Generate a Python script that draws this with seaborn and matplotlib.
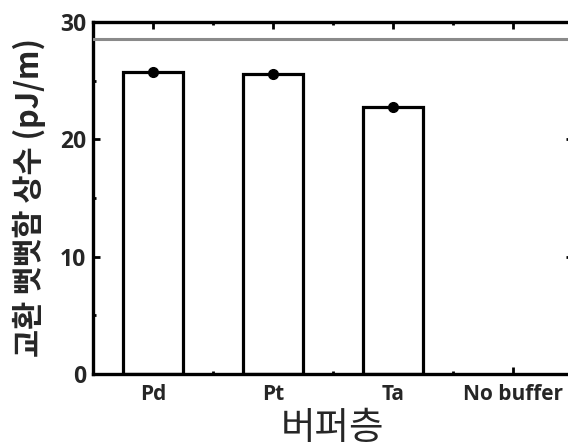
import numpy as np
import pandas as pd
import matplotlib
matplotlib.use('Agg')
import matplotlib.pyplot as plt
import seaborn as sns
from matplotlib.ticker import MultipleLocator

# --- data ---
buffers = ['Pd', 'Pt', 'Ta', 'No buffer']
bar_buffers = ['Pd', 'Pt', 'Ta']
exchange = [25.7, 25.6, 22.75]
exchange_err = [0.12, 0.25, 0.1]
no_buffer_value = 28.5

sns.set_theme(style='ticks')
plt.rcParams['font.family'] = ['Open Sans', 'Noto Sans CJK KR', 'DejaVu Sans']
plt.rcParams['axes.unicode_minus'] = False

df = pd.DataFrame({'buffer': bar_buffers, 'value': exchange})

fig = plt.figure(figsize=(5.68, 4.48), dpi=100)
ax = fig.add_axes([0.1637, 0.1652, 0.845, 0.786])

sns.barplot(data=df, x='buffer', y='value', order=buffers, ax=ax,
            color='white', edgecolor='black', linewidth=2.3, width=0.5,
            errorbar=None)
ax.errorbar(np.arange(len(bar_buffers)), exchange, yerr=exchange_err,
            fmt='o', color='black', markersize=7, capsize=0, elinewidth=1.8,
            zorder=5)
ax.axhline(no_buffer_value, color='#8a8a8a', linewidth=2.2, zorder=4)

ax.set_xlim(-0.5, 3.5)
ax.set_ylim(0, 30)
ax.yaxis.set_major_locator(MultipleLocator(10))
ax.yaxis.set_minor_locator(MultipleLocator(5))
ax.xaxis.set_minor_locator(MultipleLocator(0.5))

for s in ax.spines.values():
    s.set_linewidth(2.4)
    s.set_color('black')
    s.set_visible(True)

ax.tick_params(which='both', direction='in', top=True, right=True,
               width=2, color='black')
ax.tick_params(which='major', length=5)
ax.tick_params(which='minor', length=2.5)
ax.tick_params(axis='y', labelsize=16.5, pad=5)
ax.tick_params(axis='x', labelsize=15, pad=7)
for lab in ax.get_xticklabels() + ax.get_yticklabels():
    lab.set_fontweight('bold')

ax.set_xlabel('버퍼층', fontsize=27, family=['Noto Sans CJK KR', 'DejaVu Sans'],
              labelpad=3)
ax.set_ylabel('교환 뻣뻣함 상수 (pJ/m)', fontsize=22, fontweight='bold',
              family=['Noto Sans CJK KR', 'DejaVu Sans'], labelpad=10)

fig.savefig('out.png', dpi=100)
